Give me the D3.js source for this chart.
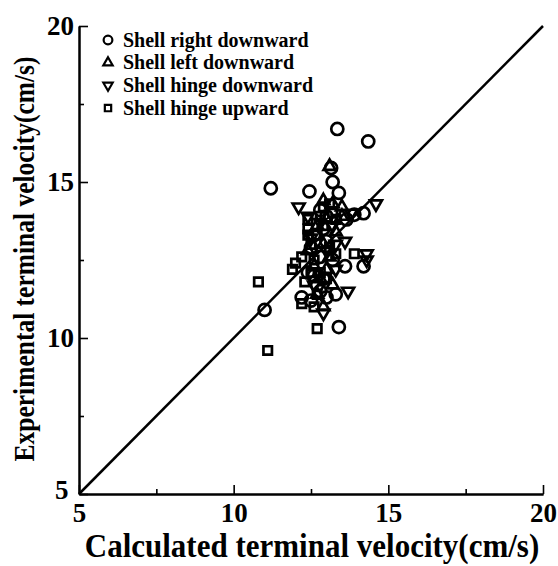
<!DOCTYPE html>
<html>
<head>
<meta charset="utf-8">
<script src="https://cdn.jsdelivr.net/npm/d3@7"></script>
<style>
  body { margin: 0; background: #fff; }
  svg { display: block; }
  text { font-family: "Liberation Serif", "Times New Roman", serif; font-weight: bold; fill: #000; }
</style>
</head>
<body>
<svg id="chart" width="558" height="566"></svg>
<script>
// Calculated vs experimental terminal velocity (cm/s), one array per shell orientation
const rightDown = [
  [13.35,16.7],[14.35,16.3],[11.2,14.8],[12.45,14.7],[13.15,15.45],[13.2,15.0],[13.4,14.65],
  [12.8,14.1],[13.0,13.9],[14.2,14.0],[13.9,13.95],[13.65,13.8],[12.6,13.3],[13.0,13.1],
  [12.5,12.9],[12.8,12.6],[13.2,12.5],[13.6,12.3],[14.2,12.3],[12.4,12.1],[12.9,11.9],
  [12.7,11.7],[12.2,11.3],[12.5,11.2],[13.0,11.3],[13.3,11.4],[12.8,11.5],[11.0,10.9],
  [13.4,10.35],[12.9,13.5],[12.6,12.0]
];
const leftDown = [
  [13.1,15.5],[12.9,14.4],[13.2,14.3],[13.5,14.2],[13.0,13.8],[12.7,13.6],[13.3,13.4],
  [12.9,13.0],[13.1,12.6],[12.6,12.3],[12.8,11.9],[13.2,11.7],[12.9,11.0],[13.5,13.9],
  [12.4,12.8],[13.0,12.2],[12.7,11.4]
];
const hingeDown = [
  [14.6,14.3],[12.1,14.2],[12.4,13.9],[13.8,14.0],[12.8,13.7],[13.2,13.6],[13.6,13.1],
  [14.3,12.7],[14.3,12.5],[13.3,12.2],[13.7,11.5],[12.9,10.8],[12.6,11.7],[13.0,12.8],
  [12.5,13.2],[13.3,13.0]
];
const hingeUp = [
  [10.8,11.8],[11.1,9.6],[12.7,10.3],[13.9,12.7],[12.2,12.6],[12.0,12.4],[11.9,12.2],
  [12.4,13.3],[12.4,13.5],[12.5,13.0],[12.7,13.3],[12.9,13.6],[13.1,14.3],[13.2,14.0],
  [12.8,13.9],[12.5,12.1],[12.3,11.8],[12.2,11.1],[12.6,11.0],[12.8,12.1],[13.1,12.9],
  [12.4,13.8],[12.9,14.2],[13.3,13.8],[12.6,12.5],[12.7,11.4],[13.0,11.9],[13.3,12.7]
];
const seriesNames = ["Shell right downward", "Shell left downward", "Shell hinge downward", "Shell hinge upward"];
const majorTicks = [5, 10, 15, 20];
const minorTicks = [7.5, 12.5, 17.5];
const xTitle = "Calculated terminal velocity(cm/s)";
const yTitle = "Experimental terminal velocity(cm/s)";

const svg = d3.select("#chart");
const plotLeft = 79, plotRight = 543, plotTop = 26, plotBottom = 494;
const x = d3.scaleLinear().domain([5, 20]).range([plotLeft, plotRight]);
const y = d3.scaleLinear().domain([5, 20]).range([plotBottom, plotTop]);

// Axes with inward ticks
const xAxisG = svg.append("g").attr("transform", `translate(0,${plotBottom})`);
xAxisG.call(d3.axisBottom(x).tickValues(majorTicks).tickSizeInner(-9).tickSizeOuter(0).tickPadding(9).tickFormat(d3.format("d")));
xAxisG.append("g").call(d3.axisBottom(x).tickValues(minorTicks).tickSizeInner(-5).tickSizeOuter(0).tickFormat(""));
const yAxisG = svg.append("g").attr("transform", `translate(${plotLeft},0)`);
yAxisG.call(d3.axisLeft(y).tickValues(majorTicks).tickSizeInner(-9).tickSizeOuter(0).tickPadding(5).tickFormat(d3.format("d")));
yAxisG.append("g").call(d3.axisLeft(y).tickValues(minorTicks).tickSizeInner(-5).tickSizeOuter(0).tickFormat(""));

svg.selectAll(".domain").attr("stroke", "#000").attr("stroke-width", 2);
svg.selectAll(".tick line").attr("stroke", "#000").attr("stroke-width", 1.6);
svg.selectAll(".tick text").style("font-size", "27px").style("font-family", "Liberation Serif, serif").style("font-weight", "bold");
// keep the two "5" labels apart at the origin
yAxisG.selectAll(".tick text").filter(d => d === 5).attr("dx", "-0.2em").attr("dy", "0.15em");

// 1:1 reference line
svg.append("line")
  .attr("x1", x(5)).attr("y1", y(5)).attr("x2", x(20)).attr("y2", y(20))
  .attr("stroke", "#000").attr("stroke-width", 2.5);

// Marker symbols
const symbols = [
  d3.symbol().type(d3.symbolCircle).size(115),
  d3.symbol().type(d3.symbolTriangle).size(62),
  d3.symbol().type(d3.symbolTriangle).size(62),
  d3.symbol().type(d3.symbolSquare).size(72)
];
const rotations = [0, 0, 180, 0];
const data = [rightDown, leftDown, hingeDown, hingeUp];

data.forEach((pts, i) => {
  svg.append("g").selectAll("path").data(pts).join("path")
    .attr("d", symbols[i]())
    .attr("transform", d => `translate(${x(d[0])},${y(d[1])}) rotate(${rotations[i]})`)
    .attr("fill", "none").attr("stroke", "#000").attr("stroke-width", 2.7);
});

// Legend
const legendSymbols = [
  d3.symbol().type(d3.symbolCircle).size(60),
  d3.symbol().type(d3.symbolTriangle).size(38),
  d3.symbol().type(d3.symbolTriangle).size(38),
  d3.symbol().type(d3.symbolSquare).size(40)
];
const legend = svg.append("g").attr("transform", "translate(108,40)");
seriesNames.forEach((name, i) => {
  const row = legend.append("g").attr("transform", `translate(0,${i * 22.7})`);
  row.append("path").attr("d", legendSymbols[i]())
    .attr("transform", `rotate(${rotations[i]})`)
    .attr("fill", "none").attr("stroke", "#000").attr("stroke-width", 2.2);
  row.append("text").attr("x", 15).attr("y", 6.5).style("font-size", "20px").text(name);
});

// Axis titles (slightly tall lettering)
svg.append("text").attr("transform", "translate(312,557) scale(1,1.12)").attr("text-anchor", "middle")
  .style("font-size", "31px").text(xTitle);
svg.append("text").attr("transform", "translate(34,259) rotate(-90) scale(1,1.12)").attr("text-anchor", "middle")
  .style("font-size", "25.5px").text(yTitle);
</script>
</body>
</html>
